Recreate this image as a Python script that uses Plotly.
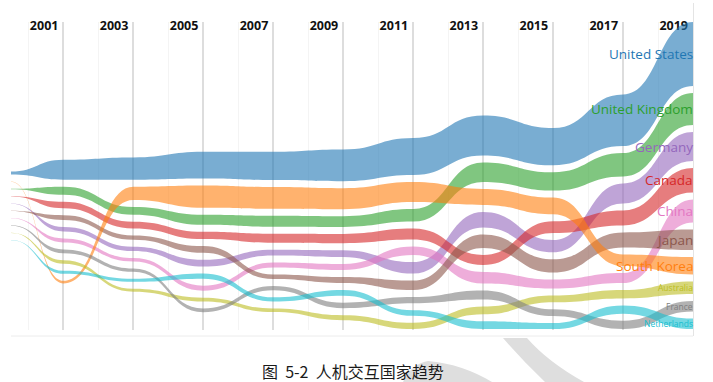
import plotly.graph_objects as go

# ---------------- data ----------------
countries = ["United States", "United Kingdom", "Germany", "Canada", "China",
             "Japan", "South Korea", "Australia", "France", "Netherlands"]
colors = ["#1f77b4", "#2ca02c", "#9467bd", "#d62728", "#e377c2",
          "#8c564b", "#ff7f0e", "#bcbd22", "#7f7f7f", "#17becf"]

# first column is the stream's starting edge, then every second year
years = [1999.5, 2001, 2003, 2005, 2007, 2009, 2011, 2013, 2015, 2017, 2019]
tick_years = [2001, 2003, 2005, 2007, 2009, 2011, 2013, 2015, 2017, 2019]
minor_years = [2000, 2002, 2004, 2006, 2008, 2010, 2012, 2014, 2016, 2018]

# stream thickness (relative publication volume)
values_us = [30, 200, 223, 267, 283, 317, 370, 400, 373, 517, 640]
values_uk = [3, 80, 77, 100, 110, 107, 125, 193, 183, 233, 320]
values_de = [3, 44, 43, 67, 57, 67, 115, 157, 123, 200, 290]
values_ca = [3, 65, 67, 73, 90, 93, 110, 100, 117, 150, 245]
values_cn = [3, 40, 34, 50, 50, 61, 85, 117, 90, 100, 230]
values_jp = [3, 48, 44, 68, 45, 59, 95, 133, 133, 150, 205]
values_kr = [3, 26, 133, 223, 217, 210, 200, 160, 167, 117, 175]
values_au = [3, 36, 29, 38, 36, 50, 62, 77, 67, 83, 125]
values_fr = [3, 38, 33, 37, 43, 55, 62, 90, 67, 83, 105]
values_nl = [3, 30, 30, 51, 42, 57, 55, 77, 60, 83, 105]

# rank of each country in each column (1 = top)
rank_us = [1, 1, 1, 1, 1, 1, 1, 1, 1, 1, 1]
rank_uk = [3, 2, 3, 3, 3, 3, 3, 2, 2, 2, 2]
rank_de = [5, 5, 6, 6, 5, 5, 6, 4, 5, 3, 3]
rank_ca = [4, 3, 4, 4, 4, 4, 4, 6, 4, 4, 4]
rank_cn = [7, 6, 7, 8, 6, 6, 5, 7, 7, 7, 5]
rank_jp = [6, 4, 5, 5, 7, 7, 7, 5, 6, 5, 6]
rank_kr = [2, 10, 2, 2, 2, 2, 2, 3, 3, 6, 7]
rank_au = [9, 8, 10, 9, 10, 10, 10, 9, 8, 8, 8]
rank_fr = [8, 7, 8, 10, 8, 9, 8, 8, 9, 10, 9]
rank_nl = [10, 9, 9, 7, 9, 8, 9, 10, 10, 9, 10]

values = dict(zip(countries, [values_us, values_uk, values_de, values_ca, values_cn,
                              values_jp, values_kr, values_au, values_fr, values_nl]))
ranks = dict(zip(countries, [rank_us, rank_uk, rank_de, rank_ca, rank_cn,
                             rank_jp, rank_kr, rank_au, rank_fr, rank_nl]))

# ---------------- stream layout ----------------
GAP = 70            # padding between streams (value units)
ANCHOR = 1426       # stack hangs from this level ...
SPREAD = 0.784      # ... growing mostly downward, until it reaches the floor
n = len(years)
y0 = {c: [0.0] * n for c in countries}
y1 = {c: [0.0] * n for c in countries}
for j in range(n):
    order = sorted(countries, key=lambda c: ranks[c][j], reverse=True)  # bottom first
    span = sum(values[c][j] for c in countries) + GAP * (len(countries) - 1)
    cur = max(0.0, ANCHOR - SPREAD * span)
    for c in order:
        y0[c][j] = cur
        y1[c][j] = cur + values[c][j]
        cur = y1[c][j] + GAP


def bump(xs, ys):
    s = ""
    for k in range(1, len(xs)):
        xm = (xs[k - 1] + xs[k]) / 2
        s += f" C {xm},{ys[k-1]} {xm},{ys[k]} {xs[k]},{ys[k]}"
    return s


fig = go.Figure()
shapes = []
for c, col in zip(countries, colors):
    top = y1[c]
    bot = y0[c]
    path = f"M {years[0]},{top[0]}" + bump(years, top)
    path += f" L {years[-1]},{bot[-1]}" + bump(years[::-1], bot[::-1]) + " Z"
    shapes.append(dict(type="path", xref="x", yref="y", path=path,
                       fillcolor=col, opacity=0.6, line=dict(width=0), layer="above"))
    centers = [(a + b) / 2 for a, b in zip(top, bot)]
    fig.add_trace(go.Scatter(x=years[1:], y=centers[1:], mode="markers",
                             marker=dict(color=col, opacity=0, size=8),
                             name=c, showlegend=False,
                             customdata=values[c][1:],
                             hovertemplate=c + " %{x}: %{customdata}<extra></extra>"))

# ---------------- geometry helpers for decoration ----------------
L, R, T, B = 11, 693, 22, 330
W, H = 713, 382


def px(x):
    return (x - L) / (R - L)


def py(y):
    return (B - y) / (B - T)


# light frame lines
shapes.append(dict(type="line", xref="paper", yref="paper", x0=0, x1=1,
                   y0=py(336), y1=py(336), line=dict(color="#ececec", width=1), layer="below"))
shapes.append(dict(type="line", xref="paper", yref="paper", x0=px(693.5), x1=px(693.5),
                   y0=py(336), y1=py(3), line=dict(color="#e4e4e4", width=1), layer="below"))

# faint watermark strokes below the chart
wm1 = (f"M {px(503)},{py(338)} L {px(527)},{py(338)} "
       f"Q {px(548)},{py(362)} {px(584)},{py(382)} L {px(545)},{py(382)} "
       f"Q {px(522)},{py(360)} {px(503)},{py(338)} Z")
wm2 = (f"M {px(403)},{py(382)} Q {px(411)},{py(364)} {px(428)},{py(361)} "
       f"Q {px(462)},{py(364)} {px(492)},{py(382)} Z")
for p in (wm1, wm2):
    shapes.append(dict(type="path", xref="paper", yref="paper", path=p,
                       fillcolor="#dedede", line=dict(width=0), layer="below"))

# ---------------- labels ----------------
annotations = []
for c, col in zip(countries, colors):
    t_px = values[c][-1] / 10.0
    size = min(13.5, max(8.5, t_px - 4))
    annotations.append(dict(x=years[-1], y=(y0[c][-1] + y1[c][-1]) / 2, xref="x", yref="y",
                            text=c, showarrow=False, xanchor="right", yanchor="middle",
                            xshift=2,
                            font=dict(family="Open Sans", size=size, color=col)))

annotations.append(dict(x=px(353), y=py(371), xref="paper", yref="paper",
                        text="图\u00a0\u00a05-2\u00a0\u00a0人机交互国家趋势", showarrow=False,
                        xanchor="center", yanchor="middle",
                        font=dict(family="Noto Sans CJK SC", size=16, color="#1a1a1a")))

fig.update_layout(
    width=W, height=H,
    margin=dict(l=L, r=W - R, t=T, b=H - B, pad=0),
    paper_bgcolor="white", plot_bgcolor="white",
    shapes=shapes, annotations=annotations,
    showlegend=False,
    xaxis=dict(range=[years[0], years[-1]], side="top",
               tickvals=tick_years, ticktext=[str(y) for y in tick_years],
               ticklabelposition="inside left",
               ticklabelstandoff=-7, ticklabelshift=-5,
               tickfont=dict(family="Open Sans", size=12.5, color="#111111", weight="bold"),
               ticks="", showline=False, zeroline=False,
               showgrid=True, gridcolor="#dddddd", gridwidth=1.6,
               minor=dict(tickvals=minor_years, showgrid=True, gridcolor="#f4f4f4", gridwidth=1),
               fixedrange=True),
    yaxis=dict(range=[-10, 3070], visible=False, showgrid=False, zeroline=False, fixedrange=True),
)

fig.write_html("out.html", config={"displayModeBar": False},
               post_script="document.body.style.margin='0px';document.body.style.overflow='hidden';")
